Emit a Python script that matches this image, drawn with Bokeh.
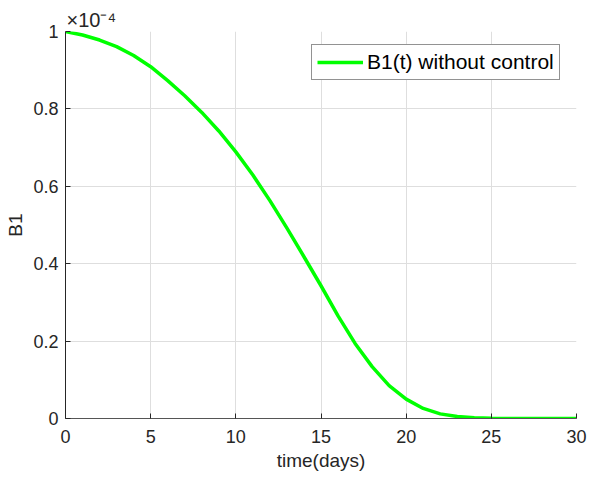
from bokeh.plotting import figure
from bokeh.models import (Range1d, FixedTicker, CustomJSTickFormatter, Legend,
                          LegendItem, ColumnDataSource)
from bokeh.embed import file_html
from bokeh.resources import INLINE

# B1 concentration over time without control (values in units of 1e-4)
time_days = [0, 1, 2, 3, 4, 5, 6, 7, 8, 9, 10, 11, 12, 13, 14, 15, 16, 17,
             18, 19, 20, 21, 22, 23, 24, 25, 26, 27, 28, 29, 30]
b1_scaled = [1.000, 0.991, 0.978, 0.961, 0.938, 0.909, 0.873, 0.834, 0.791,
             0.743, 0.689, 0.629, 0.563, 0.492, 0.418, 0.343, 0.265, 0.194,
             0.134, 0.085, 0.050, 0.026, 0.012, 0.005, 0.002, 0.0006,
             0.0002, 0.0, 0.0, 0.0, 0.0]
y_multiplier = "×10⁻⁴"

x_ticks = [0, 5, 10, 15, 20, 25, 30]
y_ticks = [0, 0.2, 0.4, 0.6, 0.8, 1.0]

series_label = "B1(t) without control"
x_label = "time(days)"
y_label = "B1"

FONT = "Liberation Sans"
TEXT = "#262626"

p = figure(width=589, height=487, output_backend="svg", toolbar_location=None,
           x_range=Range1d(0, 30), y_range=Range1d(0, 1),
           min_border_left=65, min_border_right=13,
           min_border_top=31, min_border_bottom=69)
p.outline_line_color = None
p.background_fill_color = "white"
p.border_fill_color = "white"

src = ColumnDataSource(data=dict(t=time_days, b=b1_scaled))
r = p.line("t", "b", source=src, line_color="#00ff00", line_width=3.5,
           line_join="round")

# axes
for ax in (p.xaxis[0], p.yaxis[0]):
    ax.major_tick_in = 5
    ax.major_tick_out = 0
    ax.minor_tick_line_color = None
    ax.major_label_text_font = FONT
    ax.major_label_text_font_size = "18px"
    ax.major_label_text_color = TEXT
    ax.axis_label_text_font = FONT
    ax.axis_label_text_font_size = "19px"
    ax.axis_label_text_font_style = "normal"
    ax.axis_label_text_color = TEXT
    ax.major_tick_line_color = TEXT

p.xaxis[0].ticker = FixedTicker(ticks=x_ticks)
p.yaxis[0].ticker = FixedTicker(ticks=y_ticks)
p.yaxis[0].formatter = CustomJSTickFormatter(
    code="return String(Math.round(tick * 10) / 10);")
p.xaxis[0].axis_line_color = "#555555"
p.yaxis[0].axis_line_color = TEXT
p.xaxis[0].major_label_standoff = 11
p.yaxis[0].major_label_standoff = 7
p.xaxis[0].axis_label = x_label
p.yaxis[0].axis_label = y_label
p.xaxis[0].axis_label_standoff = 4
p.yaxis[0].axis_label_standoff = 4

# grid
p.xgrid[0].ticker = FixedTicker(ticks=x_ticks)
p.ygrid[0].ticker = FixedTicker(ticks=y_ticks)
for g in (p.xgrid[0], p.ygrid[0]):
    g.grid_line_color = "#dedede"
    g.grid_line_width = 1

# exponent multiplier above the y axis
p.title.text = y_multiplier
p.title.align = "left"
p.title.offset = 1
p.title.standoff = 2
p.title.text_font = FONT
p.title.text_font_size = "20px"
p.title.text_font_style = "normal"
p.title.text_color = TEXT

# legend
legend = Legend(items=[LegendItem(label=series_label, renderers=[r])],
                location=(246, 338), margin=0, padding=5, spacing=0,
                glyph_width=46, glyph_height=20, label_height=23,
                label_standoff=4, label_text_font=FONT,
                label_text_font_size="21px", label_text_color="black",
                border_line_color="#262626", border_line_width=1,
                background_fill_color="white", background_fill_alpha=1.0)
p.add_layout(legend)

open("out.html", "w").write(file_html(p, INLINE))
